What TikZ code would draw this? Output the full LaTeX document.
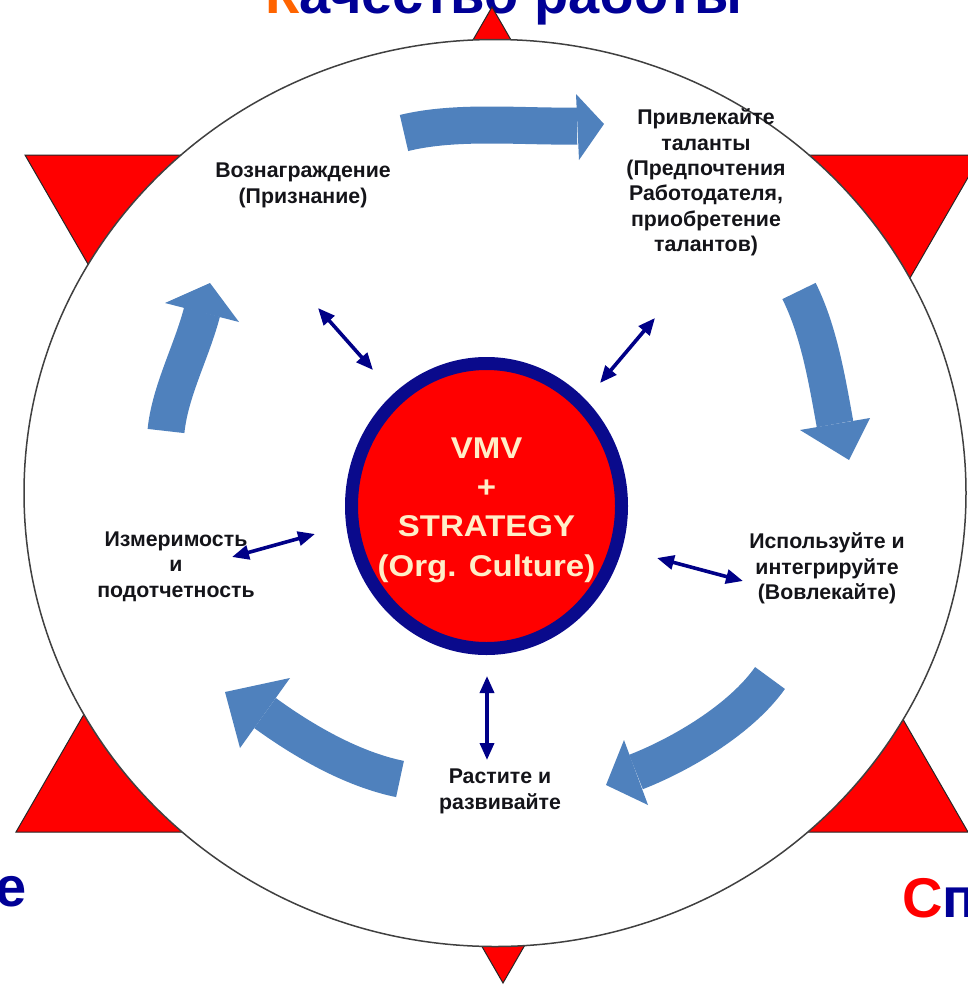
\documentclass[tikz,border=0pt]{standalone}
\usepackage{fontspec}
\setmainfont{Liberation Sans}
\newfontfamily\widesans{Liberation Sans}[FakeStretch=1.1]
\usetikzlibrary{arrows.meta,shapes.geometric}

\definecolor{starred}{RGB}{255,0,0}
\definecolor{flowblue}{RGB}{79,129,189}
\definecolor{linknavy}{RGB}{0,0,135}
\definecolor{coreblue}{RGB}{10,10,140}
\definecolor{cream}{RGB}{255,238,200}
\definecolor{labelink}{RGB}{20,20,25}
\definecolor{titleblue}{RGB}{0,0,150}
\definecolor{titleorange}{RGB}{255,100,0}

\begin{document}
\begin{tikzpicture}[x=1pt,y=-1pt,
  startri/.style={fill=starred, draw=black!85, line width=1pt, line join=miter},
  flowbody/.style={draw=flowblue, line width=37pt, line cap=butt},
  flowhead/.style={fill=flowblue},
  twoway/.style={draw=linknavy, line width=3.6pt,
    {Triangle[length=17pt,width=14pt]}-{Triangle[length=17pt,width=14pt]}},
  steplabel/.style={text=labelink, align=center, inner sep=0pt,
    font=\fontsize{21.3}{25.4}\selectfont\bfseries},
  bigword/.style={inner sep=0pt, font=\fontsize{56}{60}\selectfont\bfseries}
]
\useasboundingbox (0,0) rectangle (968,985);
\clip (0,0) rectangle (968,985);

% headline words around the star
\node[bigword, anchor=base west] (title) at (265,13)
  {\textcolor{titleorange}{К}\textcolor{titleblue}{ачество работы}};
\node[bigword, anchor=base east, text=titleblue] (leftword) at (27,906) {е};
\node[bigword, anchor=base west] (rightword) at (902,917)
  {\textcolor{starred}{С}\textcolor{titleblue}{п}};

% six-pointed star behind the disc
\draw[startri] (492,7) -- (968,832) -- (16,832) -- cycle;
\draw[startri] (503,983) -- (25,155) -- (981,155) -- cycle;

% white disc
\node[ellipse, draw=black!75, line width=1.5pt, fill=white, inner sep=0pt,
  minimum width=942pt, minimum height=907pt] (disc) at (495,493) {};

% core
\node[ellipse, draw=coreblue, line width=13pt, fill=starred, inner sep=0pt,
  minimum width=270pt, minimum height=285pt] (core) at (486.5,506) {};
\node[align=center, inner sep=0pt, text=cream,
  font=\fontsize{30}{39.3}\selectfont\widesans\bfseries] (coretext) at (486.5,510)
  {VMV\\+\\STRATEGY\\(Org. Culture)};

% cycle steps
\node[steplabel] (reward) at (303,185.5) {Вознаграждение\\(Признание)};
\node[steplabel] (attract) at (706,182.5)
  {Привлекайте\\таланты\\(Предпочтения\\Работодателя,\\приобретение\\талантов)};
\node[steplabel] (engage) at (827,568.5) {Используйте и\\интегрируйте\\(Вовлекайте)};
\node[steplabel] (grow) at (500,791.5) {Растите и\\развивайте};
\node[steplabel] (measure) at (176,566.5)
  {Измеримость\\и\\подотчетность};

% curved flow arrows (clockwise)
\coordinate (f1t) at (404,133);  \coordinate (f1b) at (577,126);
\draw[flowbody] (f1t) .. controls (457,120) and (522,127) .. (f1b);
\fill[flowhead] (576,94) -- (604,124) -- (579,160) -- cycle;

\coordinate (f2t) at (799,291);  \coordinate (f2b) at (835,424);
\draw[flowbody] (f2t) .. controls (819,331) and (827,380) .. (f2b);
\fill[flowhead] (800,430) -- (849,460) -- (870,418) -- cycle;

\coordinate (f3t) at (770,678);  \coordinate (f3b) at (636,772);
\draw[flowbody] (f3t) .. controls (741,719) and (682,754) .. (f3b);
\fill[flowhead] (648,805) -- (606,785) -- (624,740) -- cycle;

\coordinate (f4t) at (400,779);  \coordinate (f4b) at (265,713);
\draw[flowbody] (f4t) .. controls (356,770) and (309,745) .. (f4b);
\fill[flowhead] (290,678) -- (225,692) -- (240,748) -- cycle;

\coordinate (f5t) at (166,431);  \coordinate (f5b) at (202,312);
\draw[flowbody] (f5t) .. controls (170,391) and (192,351) .. (f5b);
\fill[flowhead] (239,322) -- (210,283) -- (165,303) -- cycle;

% two-way links between the steps and the core
\coordinate (l1a) at (318,308);  \coordinate (l1b) at (373,370);
\coordinate (l2a) at (655,318);  \coordinate (l2b) at (600,383);
\coordinate (l3a) at (657,558);  \coordinate (l3b) at (743,581);
\coordinate (l4a) at (232,557);  \coordinate (l4b) at (315,534);
\coordinate (l5a) at (487,676);  \coordinate (l5b) at (487,760);
\draw[twoway] (l1a) -- (l1b);
\draw[twoway] (l2a) -- (l2b);
\draw[twoway] (l3a) -- (l3b);
\draw[twoway] (l4a) -- (l4b);
\draw[twoway] (l5a) -- (l5b);
\end{tikzpicture}
\end{document}
